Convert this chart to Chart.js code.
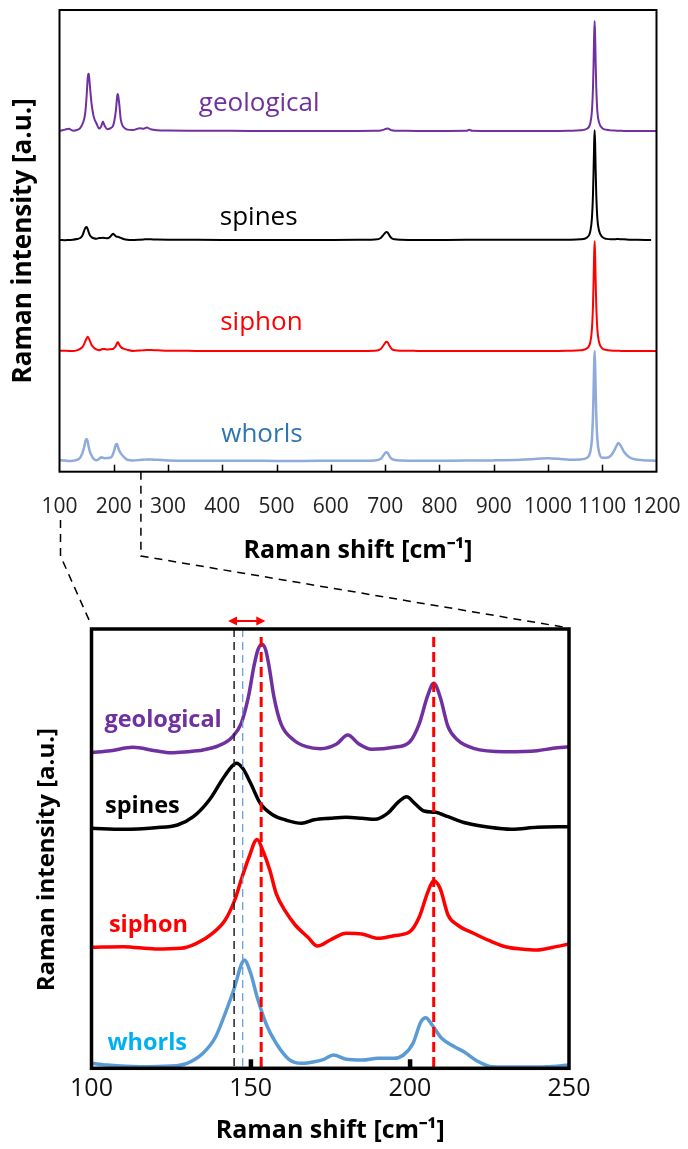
<!DOCTYPE html>
<html>
<head>
<meta charset="utf-8">
<script src="https://cdn.jsdelivr.net/npm/chart.js@4.4.1/dist/chart.umd.min.js"></script>
<style>
  body { margin: 0; background: #fff; }
  #wrap { position: relative; width: 688px; height: 1149px; }
  canvas { position: absolute; left: 0; }
  #top { top: 0; }
  #bottom { top: 580px; }
  #links { top: 0; pointer-events: none; }
</style>
</head>
<body>
<div id="wrap">
  <canvas id="top" width="688" height="580"></canvas>
  <canvas id="bottom" width="688" height="569"></canvas>
  <canvas id="links" width="688" height="1149"></canvas>
</div>
<script>
const names = ["geological", "spines", "siphon", "whorls"];

// full spectra (top panel), shared Raman shift grid in cm-1
const topShift = [100,110,117,125,132,138,142,145,146,148, 150,152,153,154,156,159,163,168,173,177,
  180,183,188,193,197,199,201,204,206,207, 208,210,213,218,225,235,248,255,261,268,
  280,300,350,400,450,500,550,600,650,680, 692,698,702,705,708,712,718,730,760,800,
  850,855,860,900,950,980,1000,1020,1040,1060, 1072,1078,1081,1083,1084,1085,1086,1087,1088,1089,
  1091,1094,1100,1108,1116,1122,1127,1130,1134,1140, 1150,1165,1180,1190,1200];

const geoTop = [0,0.012,0.02,0.002,0.008,0.025,0.06,0.1,0.12,0.19, 0.32,0.48,0.52,0.515,0.41,0.25,0.13,0.07,0.021,0.042,
  0.085,0.05,0.016,0.022,0.035,0.05,0.09,0.19,0.3,0.335, 0.325,0.25,0.1,0.035,0.012,0.008,0.025,0.02,0.03,0.015,
  0.006,0.003,0.002,0.001,0,0,0,0,0,0.001, 0.004,0.012,0.02,0.022,0.015,0.006,0.002,0.001,0,0,
  0.001,0.01,0.002,0,0,0,0,0,0.002,0.006, 0.02,0.07,0.18,0.4,0.6,0.85,1.0,0.85,0.6,0.4,
  0.18,0.08,0.025,0.01,0.005,0.003,0.002,0.002,0.001,0, 0,0,0,0,0];

const spinesTop = [0.002,0,0.002,0.004,0.01,0.02,0.04,0.08,0.095,0.115, 0.12,0.1,0.085,0.07,0.045,0.028,0.018,0.013,0.019,0.02,
  0.022,0.02,0.017,0.029,0.052,0.059,0.05,0.034,0.032,0.031, 0.03,0.027,0.021,0.011,0.004,0.002,0.005,0.007,0.009,0.008,
  0.006,0.004,0.003,0.002,0.001,0.002,0.001,0.002,0.003,0.006, 0.02,0.055,0.075,0.068,0.042,0.018,0.008,0.004,0.002,0.002,
  0.003,0.004,0.003,0.003,0.004,0.005,0.004,0.003,0.004,0.008, 0.025,0.08,0.2,0.42,0.62,0.86,1.0,0.86,0.62,0.42,
  0.2,0.09,0.03,0.012,0.008,0.009,0.01,0.01,0.009,0.008, 0.005,0.003,0.002,0.002,null];

const siphonTop = [0.003,0.004,0.002,0.002,0.007,0.02,0.035,0.059,0.07,0.095, 0.115,0.13,0.124,0.116,0.094,0.058,0.033,0.015,0.008,0.015,
  0.02,0.019,0.015,0.016,0.019,0.021,0.03,0.048,0.074,0.081, 0.08,0.06,0.037,0.022,0.011,0.002,0.005,0.008,0.01,0.01,
  0.008,0.004,0.002,0.001,0.001,0.001,0.001,0.001,0.002,0.004, 0.02,0.06,0.085,0.078,0.048,0.02,0.008,0.004,0.002,0.001,
  0.002,0.002,0.002,0.001,0.001,0.002,0.002,0.002,0.004,0.008, 0.025,0.08,0.2,0.42,0.62,0.86,1.0,0.86,0.62,0.42,
  0.2,0.085,0.025,0.01,0.005,0.003,0.003,0.003,0.002,0.002, 0.002,0.001,0.001,0.001,0.001];

const whorlsTop = [0.007,0.004,0.001,0.003,0.01,0.03,0.07,0.12,0.14,0.185, 0.2,0.175,0.15,0.125,0.085,0.05,0.02,0.008,0.02,0.035,
  0.03,0.025,0.028,0.03,0.045,0.07,0.1,0.15,0.155,0.14, 0.125,0.095,0.07,0.04,0.012,0.006,0.01,0.012,0.014,0.014,
  0.011,0.006,0.003,0.002,0.002,0.001,0.001,0.002,0.002,0.005, 0.02,0.06,0.08,0.072,0.045,0.02,0.009,0.005,0.003,0.003,
  0.004,0.004,0.004,0.006,0.012,0.02,0.025,0.02,0.012,0.015, 0.03,0.085,0.2,0.42,0.62,0.86,1.0,0.86,0.62,0.42,
  0.2,0.085,0.03,0.03,0.05,0.095,0.145,0.165,0.14,0.085, 0.035,0.012,0.006,0.004,0.003];

// zoomed region 100-250 cm-1 (bottom panel)
const geoShift = [100,106,113,120,125,130,135,140,144,147,149.3,151,152.3,153.5,154.7,155.8,157.3,159.5,163.5,167.5,172,177,180.5,184,188,195,200,203,205.5,207.5,209.5,212,215,220,230,240,245,250];
const geoZoom = [0,0.02,0.054,0.02,0,0.01,0.027,0.07,0.15,0.29,0.56,0.86,1.03,1.084,1.03,0.86,0.56,0.29,0.127,0.06,0.04,0.087,0.177,0.087,0.034,0.054,0.11,0.294,0.56,0.694,0.56,0.26,0.127,0.044,0.01,0.02,0.044,0.06];

const spinesShift = [100,110,120,127,132,137,141,144,145.5,147.5,150,153,157,161,166,170,175,180,185,189,193,196.5,199,201.5,204.5,208,212,218,225,232,240,250];
const spinesZoom = [0.01,0,0.016,0.043,0.126,0.293,0.493,0.626,0.66,0.61,0.46,0.26,0.143,0.093,0.06,0.095,0.11,0.12,0.11,0.1,0.16,0.276,0.326,0.26,0.183,0.17,0.126,0.06,0.02,0,0.02,0.026];

const siphonShift = [100,110,120,128,133,138,142,145,147,149.5,152,154,156,158,161,164,168,171,175,180,185,190,195,200,203,205.5,207.5,209.5,212,215,220,225,230,235,240,245,250];
const siphonZoom = [0.027,0.033,0.01,0.017,0.067,0.167,0.3,0.5,0.7,0.93,1.105,0.98,0.8,0.567,0.383,0.25,0.127,0.04,0.1,0.167,0.16,0.117,0.143,0.183,0.333,0.567,0.693,0.617,0.35,0.25,0.167,0.093,0.033,0.01,0,0.027,0.06];

const whorlsShift = [100,105,115,125,130,135,139,142,145,147,148,150,152,155,158,162,166,170,173,176,180,185,190,195,198,201,203.5,205,207,210,214,217,221,226,235,243,250];
const whorlsZoom = [0.037,0.02,0.003,0.01,0.037,0.137,0.303,0.537,0.803,1.02,1.07,0.937,0.703,0.42,0.237,0.077,0.037,0.053,0.077,0.12,0.077,0.07,0.087,0.087,0.12,0.237,0.453,0.493,0.42,0.287,0.203,0.153,0.063,0.003,0,0.003,0.02];

// stacking offsets of the traces
const topOffsets = [3.1, 2.106, 1.097, 0.097];
const zoomOffsets = [3.156, 2.39, 1.183, 0.013];

// peak markers in the zoom (cm-1)
const markerShifts = [144.8, 147.5, 153.3, 207.5];
const shiftArrow = [142.9, 154.6];

const topLineColors = ["#7030A0", "#000000", "#FF0000", "#8FAADC"];
const topTextColors = ["#7030A0", "#000000", "#FF0000", "#2E75B6"];
const zoomLineColors = ["#7030A0", "#000000", "#FF0000", "#5B9BD5"];
const zoomTextColors = ["#7030A0", "#000000", "#FF0000", "#00B0F0"];

const FONT = '"Open Sans", "Liberation Sans", sans-serif';

const topDecor = {
  id: "topDecor",
  afterDatasetsDraw(chart) {
    const { ctx, chartArea: a, scales: { x, y } } = chart;
    ctx.save();
    ctx.strokeStyle = "#000";
    ctx.lineWidth = 1.5;
    x.ticks.forEach(t => {
      if (t.value <= x.min || t.value >= x.max) return;
      const px = Math.round(x.getPixelForValue(t.value)) + 0.5;
      ctx.beginPath(); ctx.moveTo(px, a.bottom); ctx.lineTo(px, a.bottom - 7); ctx.stroke();
    });
    ctx.lineWidth = 2;
    ctx.strokeRect(a.left, a.top, a.right - a.left, a.bottom - a.top);
    const spots = { geological: [468, 3.35], spines: [467, 2.315], siphon: [472, 1.36], whorls: [473, 0.335] };
    ctx.font = "26px " + FONT;
    ctx.textAlign = "center";
    ctx.textBaseline = "middle";
    names.forEach((n, i) => {
      ctx.fillStyle = topTextColors[i];
      ctx.fillText(n, x.getPixelForValue(spots[n][0]), y.getPixelForValue(spots[n][1]));
    });
    ctx.restore();
  }
};

const zoomDecor = {
  id: "zoomDecor",
  afterDatasetsDraw(chart) {
    const { ctx, chartArea: a, scales: { x, y } } = chart;
    ctx.save();
    // dashed peak markers
    const styles = [
      { c: "#222", w: 1.5, d: [8, 5], top: a.top },
      { c: "#5B9BD5", w: 1.2, d: [8, 5], top: a.top },
      { c: "#FF0000", w: 3, d: [10, 5], top: a.top + 8 },
      { c: "#FF0000", w: 3, d: [10, 5], top: a.top + 8 }
    ];
    markerShifts.forEach((s, i) => {
      const st = styles[i], px = x.getPixelForValue(s);
      ctx.strokeStyle = st.c; ctx.lineWidth = st.w; ctx.setLineDash(st.d);
      ctx.beginPath(); ctx.moveTo(px, st.top); ctx.lineTo(px, a.bottom); ctx.stroke();
    });
    ctx.setLineDash([]);
    // inner tick marks
    ctx.fillStyle = "#000";
    x.ticks.forEach(t => {
      if (t.value <= x.min || t.value >= x.max) return;
      const px = x.getPixelForValue(t.value);
      ctx.fillRect(px - 2, a.bottom - 9, 4.5, 9);
    });
    ctx.strokeStyle = "#000";
    ctx.lineWidth = 3.5;
    ctx.strokeRect(a.left, a.top, a.right - a.left, a.bottom - a.top);
    // red double arrow
    const ay = a.top - 8, x1 = x.getPixelForValue(shiftArrow[0]), x2 = x.getPixelForValue(shiftArrow[1]);
    ctx.strokeStyle = "#FF0000"; ctx.fillStyle = "#FF0000"; ctx.lineWidth = 2;
    ctx.beginPath(); ctx.moveTo(x1 + 6, ay); ctx.lineTo(x2 - 6, ay); ctx.stroke();
    ctx.beginPath(); ctx.moveTo(x1, ay); ctx.lineTo(x1 + 9, ay - 4.5); ctx.lineTo(x1 + 9, ay + 4.5); ctx.closePath(); ctx.fill();
    ctx.beginPath(); ctx.moveTo(x2, ay); ctx.lineTo(x2 - 9, ay - 4.5); ctx.lineTo(x2 - 9, ay + 4.5); ctx.closePath(); ctx.fill();
    // trace names
    const spots = { geological: [122.5, 3.483], spines: [116, 2.623], siphon: [117.9, 1.433], whorls: [117.5, 0.253] };
    ctx.font = "bold 23.5px " + FONT;
    ctx.textAlign = "center";
    ctx.textBaseline = "middle";
    names.forEach((n, i) => {
      ctx.fillStyle = zoomTextColors[i];
      ctx.fillText(n, x.getPixelForValue(spots[n][0]), y.getPixelForValue(spots[n][1]));
    });
    // y title, sits a little below the panel centre in the original
    ctx.fillStyle = "#000";
    ctx.font = "bold 24px " + FONT;
    ctx.translate(47, (a.top + a.bottom) / 2 + 11);
    ctx.rotate(-Math.PI / 2);
    ctx.fillText("Raman intensity [a.u.]", 0, 0);
    ctx.restore();
  }
};

function lineSet(label, xs, vals, off, color, width) {
  return {
    label,
    data: xs.map((s, j) => ({ x: s, y: vals[j] === null ? null : vals[j] + off })),
    borderColor: color,
    borderWidth: width,
    pointRadius: 0,
    cubicInterpolationMode: "monotone",
    spanGaps: false
  };
}

function fixSize(h) {
  return s => { s.height = h; s.paddingLeft = 0; s.paddingRight = 0; };
}

function draw() {
  const topValues = [geoTop, spinesTop, siphonTop, whorlsTop];
  const topChart = new Chart(document.getElementById("top"), {
    type: "line",
    data: {
      datasets: topValues.map((v, i) => lineSet(names[i], topShift, v, topOffsets[i], topLineColors[i], i === 3 ? 2.5 : 2))
    },
    options: {
      responsive: false,
      animation: false,
      events: [],
      layout: { padding: { top: 10, right: 31.5, left: 0, bottom: 0 } },
      plugins: { legend: { display: false }, tooltip: { enabled: false } },
      scales: {
        x: {
          type: "linear", min: 100, max: 1200,
          grid: { display: false, drawTicks: false },
          border: { display: false },
          ticks: { stepSize: 100, autoSkip: false, maxRotation: 0, padding: 22.4, color: "#222",
            font: { family: FONT, size: 21 }, callback: v => String(v) },
          title: { display: true, text: "Raman shift [cm\u207B\u00B9]", color: "#000",
            font: { family: FONT, size: 25, weight: "bold" }, padding: { top: 0, bottom: 14 } },
          afterFit: fixSize(108.3)
        },
        y: {
          min: 0, max: 4.2,
          grid: { display: false, drawTicks: false },
          border: { display: false },
          ticks: { display: false },
          title: { display: true, text: "Raman intensity [a.u.]", color: "#000",
            font: { family: FONT, size: 26, weight: "bold" }, padding: { top: 8.4, bottom: 0 } },
          afterFit: s => { s.width = 59.5; }
        }
      }
    },
    plugins: [topDecor]
  });

  const zoomShifts = [geoShift, spinesShift, siphonShift, whorlsShift];
  const zoomValues = [geoZoom, spinesZoom, siphonZoom, whorlsZoom];
  const bottomChart = new Chart(document.getElementById("bottom"), {
    type: "line",
    data: {
      datasets: zoomValues.map((v, i) => lineSet(names[i], zoomShifts[i], v, zoomOffsets[i], zoomLineColors[i], 3.5))
    },
    options: {
      responsive: false,
      animation: false,
      events: [],
      layout: { padding: { top: 49, right: 119, left: 0, bottom: 0 } },
      plugins: { legend: { display: false }, tooltip: { enabled: false } },
      scales: {
        x: {
          type: "linear", min: 100, max: 250,
          grid: { display: false, drawTicks: false },
          border: { display: false },
          ticks: { stepSize: 50, autoSkip: false, maxRotation: 0, padding: 5.5, color: "#111",
            font: { family: FONT, size: 25 }, callback: v => String(v) },
          title: { display: true, text: "Raman shift [cm\u207B\u00B9]", color: "#000",
            font: { family: FONT, size: 25, weight: "bold" }, padding: { top: 0, bottom: 3 } },
          afterFit: fixSize(80.7)
        },
        y: {
          min: 0, max: 4.393,
          grid: { display: false, drawTicks: false },
          border: { display: false },
          ticks: { display: false },
          afterFit: s => { s.width = 91.5; }
        }
      }
    },
    plugins: [zoomDecor]
  });

  // dashed zoom guides linking both panels
  const c = document.getElementById("links").getContext("2d");
  const tx = topChart.scales.x, ta = topChart.chartArea, ba = bottomChart.chartArea;
  const bTop = 580 + ba.top;
  c.strokeStyle = "#000";
  c.lineWidth = 1.5;
  c.setLineDash([8, 6]);
  const xl = tx.getPixelForValue(100) + 1, xr = tx.getPixelForValue(250);
  c.beginPath(); c.moveTo(xl, 520); c.lineTo(xl, 556); c.lineTo(ba.left - 2, bTop - 8); c.stroke();
  c.beginPath(); c.moveTo(xr, ta.bottom); c.lineTo(xr, 556); c.lineTo(ba.right, bTop - 1); c.stroke();
}

Promise.all([
  document.fonts.load('21px "Open Sans"'),
  document.fonts.load('bold 25px "Open Sans"')
]).then(draw, draw);
</script>
</body>
</html>
